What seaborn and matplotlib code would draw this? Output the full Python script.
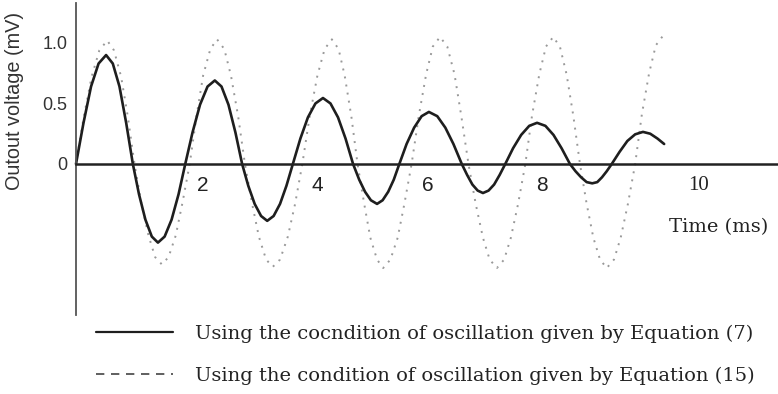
import matplotlib
matplotlib.use("Agg")
import matplotlib.pyplot as plt
import pandas as pd
import seaborn as sns
from matplotlib.lines import Line2D

# ---- data (time in ms, voltage in mV) ----
solid_t = [0.00, 0.135, 0.27, 0.405, 0.54, 0.66, 0.78, 0.90, 1.02,
           1.13, 1.245, 1.36, 1.47, 1.59, 1.715, 1.84, 1.96,
           2.09, 2.225, 2.36, 2.49, 2.61, 2.735, 2.86, 2.98,
           3.09, 3.205, 3.32, 3.43, 3.545, 3.66, 3.775, 3.89,
           4.025, 4.16, 4.295, 4.43, 4.565, 4.70, 4.835, 4.97,
           5.08, 5.185, 5.29, 5.40, 5.50, 5.60, 5.70, 5.80,
           5.93, 6.065, 6.20, 6.33, 6.48, 6.625, 6.77, 6.92,
           7.015, 7.11, 7.205, 7.30, 7.40, 7.50, 7.60, 7.70,
           7.84, 7.985, 8.13, 8.27, 8.42, 8.565, 8.71, 8.86,
           8.96, 9.06, 9.16, 9.26, 9.35, 9.435, 9.52, 9.61,
           9.75, 9.89, 10.03, 10.17, 10.30, 10.43, 10.55]
solid_v = [0.00, 0.34, 0.64, 0.83, 0.90, 0.83, 0.64, 0.34, 0.00,
           -0.25, -0.46, -0.60, -0.65, -0.60, -0.46, -0.25, 0.00,
           0.26, 0.49, 0.64, 0.69, 0.64, 0.49, 0.26, 0.00,
           -0.18, -0.33, -0.43, -0.47, -0.43, -0.33, -0.18, 0.00,
           0.21, 0.385, 0.50, 0.545, 0.50, 0.385, 0.21, 0.00,
           -0.13, -0.23, -0.30, -0.33, -0.30, -0.23, -0.13, 0.00,
           0.165, 0.30, 0.395, 0.43, 0.395, 0.30, 0.165, 0.00,
           -0.09, -0.17, -0.22, -0.24, -0.22, -0.17, -0.09, 0.00,
           0.13, 0.24, 0.315, 0.34, 0.315, 0.24, 0.13, 0.00,
           -0.06, -0.11, -0.15, -0.16, -0.15, -0.11, -0.06, 0.00,
           0.10, 0.19, 0.245, 0.265, 0.25, 0.21, 0.165]

dashed_t = [0.00, 0.14, 0.28, 0.42, 0.56, 0.68, 0.81, 0.93, 1.05,
            1.17, 1.30, 1.42, 1.54, 1.66, 1.79, 1.91, 2.04,
            2.16, 2.28, 2.41, 2.53, 2.66, 2.78, 2.91, 3.03,
            3.16, 3.28, 3.41, 3.53, 3.66, 3.80, 3.93, 4.06,
            4.19, 4.33, 4.46, 4.59, 4.71, 4.82, 4.94, 5.05,
            5.17, 5.28, 5.40, 5.51, 5.64, 5.77, 5.89, 6.02,
            6.15, 6.28, 6.40, 6.53, 6.66, 6.79, 6.91, 7.04,
            7.17, 7.30, 7.42, 7.55, 7.68, 7.80, 7.93, 8.06,
            8.18, 8.31, 8.43, 8.56, 8.68, 8.80, 8.92, 9.04,
            9.16, 9.28, 9.40, 9.52, 9.65, 9.77, 9.90, 10.03,
            10.15, 10.28, 10.40, 10.53]
dashed_v = [0.00, 0.39, 0.72, 0.94, 1.02, 0.94, 0.72, 0.39, 0.00,
            -0.32, -0.59, -0.77, -0.83, -0.77, -0.59, -0.32, 0.00,
            0.39, 0.73, 0.95, 1.03, 0.95, 0.73, 0.39, 0.00,
            -0.33, -0.60, -0.79, -0.85, -0.79, -0.60, -0.33, 0.00,
            0.39, 0.73, 0.95, 1.03, 0.95, 0.73, 0.39, 0.00,
            -0.33, -0.61, -0.79, -0.86, -0.79, -0.61, -0.33, 0.00,
            0.40, 0.74, 0.97, 1.05, 0.97, 0.74, 0.40, 0.00,
            -0.33, -0.61, -0.79, -0.86, -0.79, -0.61, -0.33, 0.00,
            0.40, 0.74, 0.97, 1.05, 0.97, 0.74, 0.40, 0.00,
            -0.33, -0.61, -0.79, -0.86, -0.79, -0.61, -0.33, 0.00,
            0.41, 0.75, 0.98, 1.06]

x_tick_labels = ["2", "4", "6", "8", "10"]
x_tick_pos = [2.28, 4.32, 6.31, 8.36, 11.16]
y_ticks = [1.0, 0.5, 0.0]
y_tick_labels = ["1.0", "0.5", "0"]
legend_labels = ["Using the cocndition of oscillation given by Equation (7)",
                 "Using the condition of oscillation given by Equation (15)"]
x_label = "Time (ms)"
y_label = "Outout voltage (mV)"

# ---- drawing ----
sns.set_theme(style="white")
plt.rcParams['font.family'] = ['DejaVu Sans']

fig = plt.figure(figsize=(7.78, 3.94), dpi=100)
ax = fig.add_axes([0, 0, 1, 1])
ax.set_facecolor("white")

df_s = pd.DataFrame({"t": solid_t, "v": solid_v})
df_d = pd.DataFrame({"t": dashed_t, "v": dashed_v})

sns.lineplot(data=df_d, x="t", y="v", ax=ax, color="#999999", linewidth=1.4,
             linestyle=(0, (1, 3.2)), sort=False, estimator=None, legend=False)
sns.lineplot(data=df_s, x="t", y="v", ax=ax, color="#1e1e1e", linewidth=1.9,
             sort=False, estimator=None, legend=False)

ax.set_xlim(-1.363, 12.592)
ax.set_ylim(-1.901, 1.355)

for s in ["top", "right"]:
    ax.spines[s].set_visible(False)
ax.spines["left"].set_position(("data", 0))
ax.spines["left"].set_bounds(-1.248, 1.33)
ax.spines["left"].set_color("#555555")
ax.spines["left"].set_linewidth(1.3)
ax.spines["bottom"].set_position(("data", 0))
ax.spines["bottom"].set_bounds(0, 12.6)
ax.spines["bottom"].set_color("#222222")
ax.spines["bottom"].set_linewidth(1.8)

ax.set_xticks([])
ax.set_yticks(y_ticks)
ax.set_yticklabels(y_tick_labels, family="Liberation Sans", fontsize=13, color="#333333")
ax.tick_params(axis="y", length=0, pad=6)
ax.set_xlabel("")
ax.set_ylabel("")

for pos, lab in zip(x_tick_pos, x_tick_labels):
    fam = "Liberation Serif" if lab == "10" else "Liberation Sans"
    ax.text(pos, -0.175, lab, ha="center", va="center", fontsize=15,
            family=fam, color="#222222")

ax.text(11.52, -0.52, x_label, ha="center", va="center", fontsize=14,
        family="DejaVu Serif", color="#222222")

fig.text(15 / 778, 1 - 190 / 394, y_label, rotation=90, ha="center", va="bottom",
         fontsize=14.3, family="Liberation Sans", color="#333333")

handles = [Line2D([], [], color="#1e1e1e", linewidth=1.6),
           Line2D([], [], color="#444444", linewidth=1.2, linestyle=(0, (5, 4)))]
leg = ax.legend(handles, legend_labels, loc="upper left",
                bbox_to_anchor=(96 / 778, 1 - 325 / 394), bbox_transform=fig.transFigure,
                frameon=False, borderpad=0, borderaxespad=0,
                handlelength=3.96, handletextpad=1.13, labelspacing=1.22,
                prop={"family": "DejaVu Serif", "size": 14})
for t in leg.get_texts():
    t.set_color("#222222")

fig.savefig("out.png", dpi=100)
